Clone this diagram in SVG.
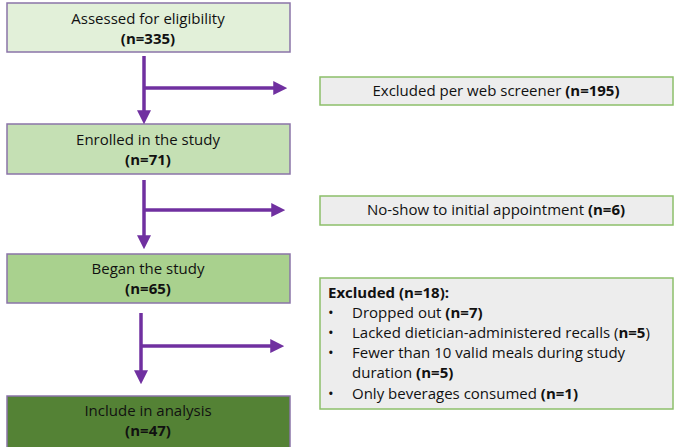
<svg xmlns="http://www.w3.org/2000/svg" width="675" height="447" viewBox="0 0 675 447">
<defs>
<marker id="ah" markerWidth="4" markerHeight="4" refX="0.5" refY="2" orient="auto" markerUnits="strokeWidth" viewBox="0 0 4 4">
<path d="M0,0 L4,2 L0,4 Z" fill="#7030a0"/>
</marker>
</defs>
<style>
.lb{stroke:#8a74a8;stroke-width:1.5}
.rb{fill:#ededed;stroke:#8cbf6a;stroke-width:1.5}
text{font-family:"Open Sans","Liberation Sans",sans-serif;font-size:15px;fill:#111}
.c{text-anchor:middle}
.b{font-weight:bold}
.ar{stroke:#7030a0;stroke-width:3.5;fill:none}
</style>
<rect width="675" height="447" fill="#ffffff"/>
<g id="n1"><rect class="lb" x="7" y="3" width="283" height="49" fill="#e2f0d9"/>
<text class="c" x="148" y="24">Assessed for eligibility</text>
<text class="c b" x="148" y="44">(n=335)</text></g>
<g id="n2"><rect class="lb" x="7" y="124" width="283" height="50" fill="#c5e0b4"/>
<text class="c" x="148" y="145">Enrolled in the study</text>
<text class="c b" x="148" y="165">(n=71)</text></g>
<g id="n3"><rect class="lb" x="7" y="254" width="283" height="49" fill="#a9d18e"/>
<text class="c" x="148" y="274">Began the study</text>
<text class="c b" x="148" y="294">(n=65)</text></g>
<g id="n4"><rect class="lb" x="7" y="396" width="283" height="52" fill="#548235"/>
<text class="c" x="148" y="416">Include in analysis</text>
<text class="c b" x="148" y="436">(n=47)</text></g>
<g id="r1"><rect class="rb" x="320" y="77" width="353" height="28"/>
<text class="c" x="496" y="96">Excluded per web screener <tspan class="b">(n=195)</tspan></text></g>
<g id="r2"><rect class="rb" x="320" y="196" width="353" height="29"/>
<text class="c" x="496" y="215">No-show to initial appointment <tspan class="b">(n=6)</tspan></text></g>
<g id="r3"><rect class="rb" x="320" y="278" width="353" height="131"/>
<text class="b" x="328" y="298">Excluded (n=18):</text>
<text x="328" y="318">•</text><text x="352" y="318">Dropped out <tspan class="b">(n=7)</tspan></text>
<text x="328" y="338">•</text><text x="352" y="338">Lacked dietician-administered recalls (<tspan class="b">n=5</tspan>)</text>
<text x="328" y="358">•</text><text x="352" y="358">Fewer than 10 valid meals during study</text>
<text x="352" y="378">duration <tspan class="b">(n=5)</tspan></text>
<text x="328" y="399">•</text><text x="352" y="399">Only beverages consumed <tspan class="b">(n=1)</tspan></text></g>
<g id="connectors">
<path class="ar" d="M144,56 V112" marker-end="url(#ah)"/>
<path class="ar" d="M144,88 H275" marker-end="url(#ah)"/>
<path class="ar" d="M144,180 V237" marker-end="url(#ah)"/>
<path class="ar" d="M144,210 H273" marker-end="url(#ah)"/>
<path class="ar" d="M141,313 V372" marker-end="url(#ah)"/>
<path class="ar" d="M141,346 H272" marker-end="url(#ah)"/>
</g>
</svg>
